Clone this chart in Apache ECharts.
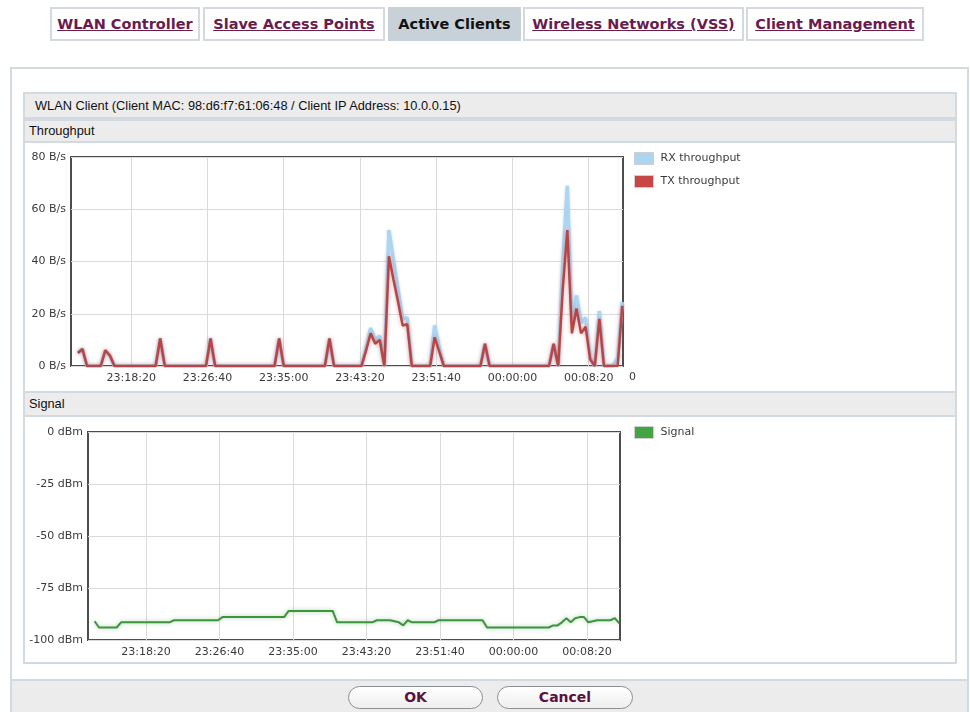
<!DOCTYPE html>
<html>
<head>
<meta charset="utf-8">
<title>Active Clients</title>
<script src="https://cdn.jsdelivr.net/npm/echarts@6/dist/echarts.min.js"></script>
<style>
	body {
		margin: 0;
		width: 970px;
		height: 712px;
		position: relative;
		overflow: hidden;
		background: #fff;
		font-family: 'Liberation Sans', Arial, sans-serif;
	}
	.tab {
		position: absolute;
		top: 7px;
		height: 34px;
		box-sizing: border-box;
		border: 2px solid #d3d9de;
		font: bold 14.5px 'DejaVu Sans', Verdana, sans-serif;
		line-height: 30px;
		text-align: center;
		color: #6a1b4d;
	}
	.tab span { text-decoration: underline; }
	.tab.active { background: #c9d1d8; border-color: #c9d1d8; color: #111; }
	.tab.active span { text-decoration: none; }
	.panel {
		position: absolute;
		left: 10px;
		top: 67px;
		width: 959px;
		height: 660px;
		box-sizing: border-box;
		border: 2px solid #d2d9df;
	}
	.section {
		position: absolute;
		left: 23px;
		top: 92px;
		width: 934px;
		height: 572px;
		box-sizing: border-box;
		border: 2px solid #d2d9df;
	}
	.bar {
		position: absolute;
		left: 23px;
		width: 934px;
		box-sizing: border-box;
		border: 2px solid #d2d9df;
		background: #ececec;
		font-size: 12.8px;
		color: #111;
		padding-left: 4px;
	}
	.chart { position: absolute; left: 24px; width: 932px; }
	.footer {
		position: absolute;
		left: 10px;
		top: 679px;
		width: 959px;
		height: 40px;
		box-sizing: border-box;
		border: 2px solid #d2d9df;
		background: #ececec;
	}
	.btn {
		position: absolute;
		top: 686px;
		height: 23px;
		box-sizing: border-box;
		border: 1px solid #8a8f94;
		border-radius: 12px;
		background: linear-gradient(#ffffff, #eeeeee);
		font: bold 14px 'DejaVu Sans', Verdana, sans-serif;
		line-height: 21px;
		text-align: center;
		color: #5a1240;
	}
</style>
</head>
<body>
	<div class="tab" style="left:50px;width:150px"><span>WLAN Controller</span></div>
	<div class="tab" style="left:203px;width:182px"><span>Slave Access Points</span></div>
	<div class="tab active" style="left:388px;width:133px"><span>Active Clients</span></div>
	<div class="tab" style="left:523px;width:221px"><span>Wireless Networks (VSS)</span></div>
	<div class="tab" style="left:746px;width:178px"><span>Client Management</span></div>

	<div class="panel"></div>
	<div class="section"></div>
	<div class="bar" style="top:92px;height:27px;line-height:23px;padding-left:10px">WLAN Client (Client MAC: 98:d6:f7:61:06:48 / Client IP Address: 10.0.0.15)</div>
	<div class="bar" style="top:119px;height:24px;line-height:20px">Throughput</div>
	<div class="chart" id="throughputChart" style="top:143px;height:248px"></div>
	<div class="bar" style="top:391px;height:26px;line-height:22px">Signal</div>
	<div class="chart" id="signalChart" style="top:417px;height:245px"></div>

	<div class="footer"></div>
	<div class="btn" style="left:348px;width:135px">OK</div>
	<div class="btn" style="left:497px;width:136px">Cancel</div>

<script>
// time axis (hh:mm:ss, after midnight continues into the next day)
const axisStart = '23:11:45';
const axisEnd = '00:12:05';
const timeTicks = ['23:18:20', '23:26:40', '23:35:00', '23:43:20', '23:51:40', '00:00:00', '00:08:20'];
const sampleStart = '23:12:30';
const sampleStep = 30; // seconds between two samples

// throughput in B/s, one value per sample
const rxValues = [
	5, 6.5, 0, 0, 0, 0, 6, 4, 0, 0,
	0, 0, 0, 0, 0, 0, 0, 0, 10.5, 0,
	0, 0, 0, 0, 0, 0, 0, 0, 0, 10.5,
	0, 0, 0, 0, 0, 0, 0, 0, 0, 0,
	0, 0, 0, 0, 10.5, 0, 0, 0, 0, 0,
	0, 0, 0, 0, 0, 10.5, 0, 0, 0, 0,
	0, 0, 0, 7, 14.5, 10, 11.5, 0, 52, 40.5,
	29, 18, 18.5, 0, 0, 0, 0, 0, 15.5, 7,
	0, 0, 0, 0, 0, 0, 0, 0, 0, 8.5,
	0, 0, 0, 0, 0, 0, 0, 0, 0, 0,
	0, 0, 0, 0, 8.5, 0, 39.5, 69, 16.5, 27,
	16.5, 18.5, 3, 0, 21, 0, 0, 0, 3, 24.5,
];
const txValues = [
	5, 6.5, 0, 0, 0, 0, 6, 4, 0, 0,
	0, 0, 0, 0, 0, 0, 0, 0, 10.5, 0,
	0, 0, 0, 0, 0, 0, 0, 0, 0, 10.5,
	0, 0, 0, 0, 0, 0, 0, 0, 0, 0,
	0, 0, 0, 0, 10.5, 0, 0, 0, 0, 0,
	0, 0, 0, 0, 0, 10.5, 0, 0, 0, 0,
	0, 0, 0, 6, 12.5, 8.5, 10, 0, 42, 33,
	24.5, 15.5, 16, 0, 0, 0, 0, 0, 11, 5.5,
	0, 0, 0, 0, 0, 0, 0, 0, 0, 8.5,
	0, 0, 0, 0, 0, 0, 0, 0, 0, 0,
	0, 0, 0, 0, 8.5, 0, 29.5, 52, 12.5, 22,
	12.5, 15, 2.5, 0, 18, 0, 0, 0, 0, 23,
];
// signal in dBm, one value per sample
const signalValues = [
	-91, -94, -94, -94, -94, -94, -91.5, -91.5, -91.5, -91.5,
	-91.5, -91.5, -91.5, -91.5, -91.5, -91.5, -91.5, -91.5, -90.5, -90.5,
	-90.5, -90.5, -90.5, -90.5, -90.5, -90.5, -90.5, -90.5, -90.5, -89,
	-89, -89, -89, -89, -89, -89, -89, -89, -89, -89,
	-89, -89, -89, -89, -86, -86, -86, -86, -86, -86,
	-86, -86, -86, -86, -86, -91.5, -91.5, -91.5, -91.5, -91.5,
	-91.5, -91.5, -91.5, -91.5, -90.5, -90.5, -90.5, -90.5, -91, -91.5,
	-93, -90.5, -91.5, -91.5, -91.5, -91.5, -91.5, -91.5, -90.5, -90.5,
	-90.5, -90.5, -90.5, -90.5, -90.5, -90.5, -90.5, -90.5, -90.5, -94,
	-94, -94, -94, -94, -94, -94, -94, -94, -94, -94,
	-94, -94, -94, -94, -93, -93, -91.5, -89.5, -91.5, -89.5,
	-89, -89, -91.5, -91, -90.5, -90.5, -90.5, -90.5, -89.5, -92,
];
const throughputNames = ['RX throughput', 'TX throughput'];
const signalNames = ['Signal'];

const toSec = (t) => {
	const p = t.split(':').map(Number);
	let s = p[0] * 3600 + p[1] * 60 + p[2];
	if (p[0] < 12) s += 86400; // past midnight
	return s;
};
const pad = (n) => (n < 10 ? '0' : '') + n;
const fmtTime = (v) => {
	const s = Math.round(v) % 86400;
	return pad(Math.floor(s / 3600)) + ':' + pad(Math.floor((s % 3600) / 60)) + ':' + pad(s % 60);
};
const withTime = (values) => values.map((v, i) => [toSec(sampleStart) + i * sampleStep, v]);

const font = 'DejaVu Sans';
const labelColor = '#3a3a3a';

const xAxisBase = () => ({
	type: 'value',
	min: toSec(axisStart),
	max: toSec(axisEnd),
	axisLine: { show: false },
	axisTick: { show: false, customValues: timeTicks.map(toSec) },
	axisLabel: {
		customValues: timeTicks.map(toSec),
		formatter: fmtTime,
		color: labelColor,
		fontFamily: font,
		fontSize: 11,
		margin: 7,
	},
	splitLine: { show: true, lineStyle: { color: '#dadada', width: 1 } },
});

const legendBase = (names) => ({
	data: names,
	orient: 'vertical',
	left: 610,
	top: 9,
	padding: 0,
	icon: 'rect',
	itemWidth: 19,
	itemHeight: 12,
	itemGap: 10,
	itemStyle: { borderColor: '#cfcfcf', borderWidth: 1 },
	textStyle: { color: labelColor, fontFamily: font, fontSize: 11, padding: [0, 0, 0, 2] },
});

const throughputChart = echarts.init(document.getElementById('throughputChart'));
throughputChart.setOption({
	animation: false,
	grid: { left: 47, top: 14, width: 552, height: 209, show: true, borderColor: '#4d4d4d', borderWidth: 2 },
	legend: legendBase(throughputNames),
	xAxis: xAxisBase(),
	yAxis: {
		type: 'value',
		min: 0,
		max: 80,
		interval: 20,
		axisLine: { show: false },
		axisTick: { show: false },
		axisLabel: { formatter: '{value} B/s', color: labelColor, fontFamily: font, fontSize: 11, margin: 5 },
		splitLine: { lineStyle: { color: '#dadada' } },
	},
	graphic: [
		{ type: 'text', left: 605, top: 229, style: { text: '0', fill: labelColor, font: '11px DejaVu Sans' } },
	],
	series: [
		{
			name: throughputNames[0],
			type: 'line',
			color: '#acd5f2',
			symbol: 'none',
			data: withTime(rxValues),
			lineStyle: { width: 3.5, color: '#acd5f2', shadowBlur: 3, shadowColor: 'rgba(120,170,210,0.4)' },
		},
		{
			name: throughputNames[1],
			type: 'line',
			color: '#c84646',
			symbol: 'none',
			data: withTime(txValues),
			lineStyle: { width: 2.5, color: '#b84545', shadowBlur: 4, shadowColor: 'rgba(190,70,70,0.45)' },
		},
	],
});

const signalChart = echarts.init(document.getElementById('signalChart'));
signalChart.setOption({
	animation: false,
	grid: { left: 64, top: 15, width: 532, height: 208, show: true, borderColor: '#4d4d4d', borderWidth: 2 },
	legend: legendBase(signalNames),
	xAxis: xAxisBase(),
	yAxis: {
		type: 'value',
		min: -100,
		max: 0,
		interval: 25,
		axisLine: { show: false },
		axisTick: { show: false },
		axisLabel: { formatter: '{value} dBm', color: labelColor, fontFamily: font, fontSize: 11, margin: 5 },
		splitLine: { lineStyle: { color: '#dadada' } },
	},
	series: [
		{
			name: signalNames[0],
			type: 'line',
			color: '#44a444',
			symbol: 'none',
			data: withTime(signalValues),
			lineStyle: { width: 2, color: '#3e943e', shadowBlur: 4, shadowColor: 'rgba(60,150,60,0.45)' },
		},
	],
});
</script>
</body>
</html>
